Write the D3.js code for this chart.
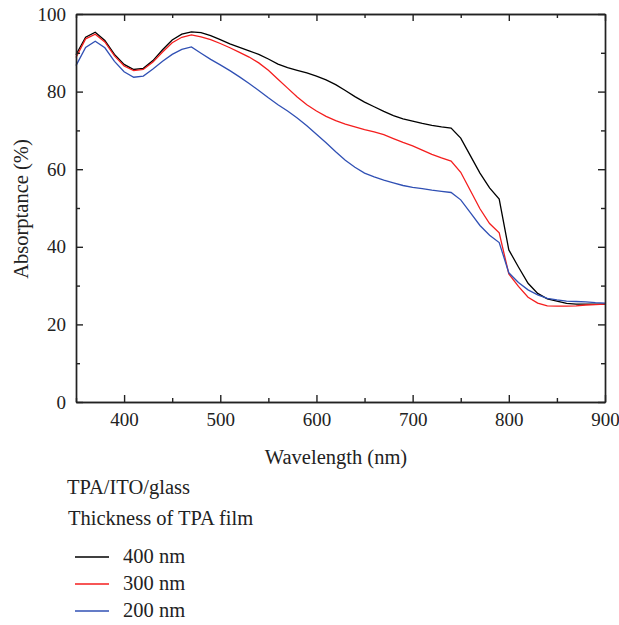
<!DOCTYPE html>
<html>
<head>
<meta charset="utf-8" />
<script src="https://cdn.jsdelivr.net/npm/d3@7"></script>
<style>
	body { margin: 0; background: #fff; }
	svg text { font-family: "Liberation Serif", "Times New Roman", serif; fill: #222; }
	.axis path, .axis line { stroke: #222; fill: none; }
</style>
</head>
<body>
<div id="chart"></div>
<script>

// wavelength grid (nm)
var wavelength = [350, 360, 370, 380, 390, 400, 410, 420, 430, 440, 450, 460, 470, 480, 490,
	500, 510, 520, 530, 540, 550, 560, 570, 580, 590, 600, 610, 620, 630, 640, 650, 660, 670,
	680, 690, 700, 710, 720, 730, 740, 750, 760, 770, 780, 790, 800, 810, 820, 830, 840, 850,
	860, 870, 880, 890, 900];

// absorptance (%)
var abs400 = [89.5, 94.0, 95.3, 93.2, 89.6, 87.0, 85.7, 86.0, 88.0, 90.8, 93.3, 94.8, 95.4, 95.2, 94.4,
	93.4, 92.3, 91.4, 90.5, 89.6, 88.4, 87.1, 86.2, 85.5, 84.8, 84.0, 83.0, 81.8, 80.3, 78.7, 77.3, 76.1, 74.9,
	73.8, 73.0, 72.4, 71.8, 71.3, 70.9, 70.6, 68.0, 63.5, 59.0, 55.2, 52.3, 39.2, 34.8, 30.6, 28.0, 26.6, 26.0,
	25.4, 25.2, 25.2, 25.2, 25.2];
var abs300 = [88.8, 93.6, 94.8, 92.8, 89.2, 86.6, 85.4, 85.7, 87.6, 90.2, 92.6, 94.0, 94.6, 94.1, 93.4,
	92.4, 91.3, 90.1, 88.9, 87.4, 85.5, 83.2, 80.9, 78.6, 76.6, 75.0, 73.6, 72.5, 71.6, 70.9, 70.2, 69.6, 68.9,
	67.9, 66.9, 66.0, 64.9, 63.8, 62.9, 62.1, 59.2, 54.5, 49.8, 46.0, 43.6, 33.0, 29.8, 27.0, 25.5, 24.8, 24.7,
	24.7, 24.8, 25.0, 25.1, 25.2];
var abs200 = [86.7, 91.4, 93.0, 91.3, 87.8, 85.1, 83.7, 84.0, 85.8, 87.8, 89.6, 90.9, 91.5, 89.9, 88.3,
	86.9, 85.4, 83.8, 82.1, 80.3, 78.4, 76.6, 75.0, 73.2, 71.2, 69.0, 66.8, 64.5, 62.3, 60.5, 59.0, 58.0, 57.2,
	56.5, 55.8, 55.3, 55.0, 54.6, 54.3, 54.0, 52.1, 48.8, 45.5, 43.0, 41.1, 33.3, 30.8, 28.9, 27.6, 26.7, 26.3,
	26.0, 25.9, 25.8, 25.6, 25.5];

var seriesNames = ["400 nm", "300 nm", "200 nm"];
var seriesColors = ["#000000", "#f41e1e", "#3050b4"];

var xTicks = [400, 500, 600, 700, 800, 900];
var xMinor = [350, 450, 550, 650, 750, 850];
var yTicks = [0, 20, 40, 60, 80, 100];
var yMinor = [10, 30, 50, 70, 90];

var margin = { top: 14, right: 14, bottom: 223, left: 76 },
	width = 619 - margin.left - margin.right,
	height = 625 - margin.top - margin.bottom;

var svg = d3.select("#chart").append("svg")
	.attr("width", 619)
	.attr("height", 625);

var g = svg.append("g")
	.attr("transform", "translate(" + margin.left + "," + margin.top + ")");

var x = d3.scaleLinear().domain([350, 900]).range([0, width]);
var y = d3.scaleLinear().domain([0, 100]).range([height, 0]);

// series lines
var line = d3.line()
	.x(function (d) { return x(d[0]); })
	.y(function (d) { return y(d[1]); });

[abs400, abs300, abs200].forEach(function (vals, i) {
	g.append("path")
		.datum(wavelength.map(function (w, j) { return [w, vals[j]]; }))
		.attr("fill", "none")
		.attr("stroke", seriesColors[i])
		.attr("stroke-width", 1.3)
		.attr("d", line);
});

// axes - ticks point inward
var tickFont = "19px";
var textFont = "20.5px";

g.append("g").attr("class", "axis")
	.attr("transform", "translate(0," + height + ")")
	.call(d3.axisBottom(x).tickValues(xTicks).tickSize(-7).tickPadding(11).tickSizeOuter(0))
	.selectAll("text").style("font-size", tickFont);
g.append("g").attr("class", "axis")
	.attr("transform", "translate(0," + height + ")")
	.call(d3.axisBottom(x).tickValues(xMinor).tickSize(-4).tickFormat("").tickSizeOuter(0));

g.append("g").attr("class", "axis")
	.call(d3.axisTop(x).tickValues(xTicks).tickSize(-7).tickFormat("").tickSizeOuter(0));
g.append("g").attr("class", "axis")
	.call(d3.axisTop(x).tickValues(xMinor).tickSize(-4).tickFormat("").tickSizeOuter(0));

g.append("g").attr("class", "axis")
	.call(d3.axisLeft(y).tickValues(yTicks).tickSize(-7).tickPadding(10).tickSizeOuter(0))
	.selectAll("text").style("font-size", tickFont);
g.append("g").attr("class", "axis")
	.call(d3.axisLeft(y).tickValues(yMinor).tickSize(-4).tickFormat("").tickSizeOuter(0));

g.append("g").attr("class", "axis")
	.attr("transform", "translate(" + width + ",0)")
	.call(d3.axisRight(y).tickValues(yTicks).tickSize(-7).tickFormat("").tickSizeOuter(0));
g.append("g").attr("class", "axis")
	.attr("transform", "translate(" + width + ",0)")
	.call(d3.axisRight(y).tickValues(yMinor).tickSize(-4).tickFormat("").tickSizeOuter(0));

g.selectAll(".axis path, .axis line").attr("stroke-width", 1.4).attr("stroke", "#222");

// axis titles
svg.append("text")
	.attr("x", 336)
	.attr("y", 464)
	.attr("text-anchor", "middle")
	.style("font-size", textFont)
	.text("Wavelength (nm)");

svg.append("text")
	.attr("transform", "translate(28,209) rotate(-90)")
	.attr("text-anchor", "middle")
	.style("font-size", textFont)
	.text("Absorptance (%)");

// legend
svg.append("text").attr("x", 67).attr("y", 494).style("font-size", textFont).text("TPA/ITO/glass");
svg.append("text").attr("x", 68).attr("y", 525).style("font-size", textFont).text("Thickness of TPA film");

var legend = svg.selectAll(".legend")
	.data(seriesNames)
	.enter().append("g")
	.attr("class", "legend")
	.attr("transform", function (d, i) { return "translate(0," + (557 + i * 27) + ")"; });

legend.append("line")
	.attr("x1", 75).attr("x2", 109)
	.attr("y1", 0).attr("y2", 0)
	.attr("stroke", function (d, i) { return seriesColors[i]; })
	.attr("stroke-width", 1.3);

legend.append("text")
	.attr("x", 123)
	.attr("y", 6)
	.style("font-size", textFont)
	.text(function (d) { return d; });

</script>
</body>
</html>
